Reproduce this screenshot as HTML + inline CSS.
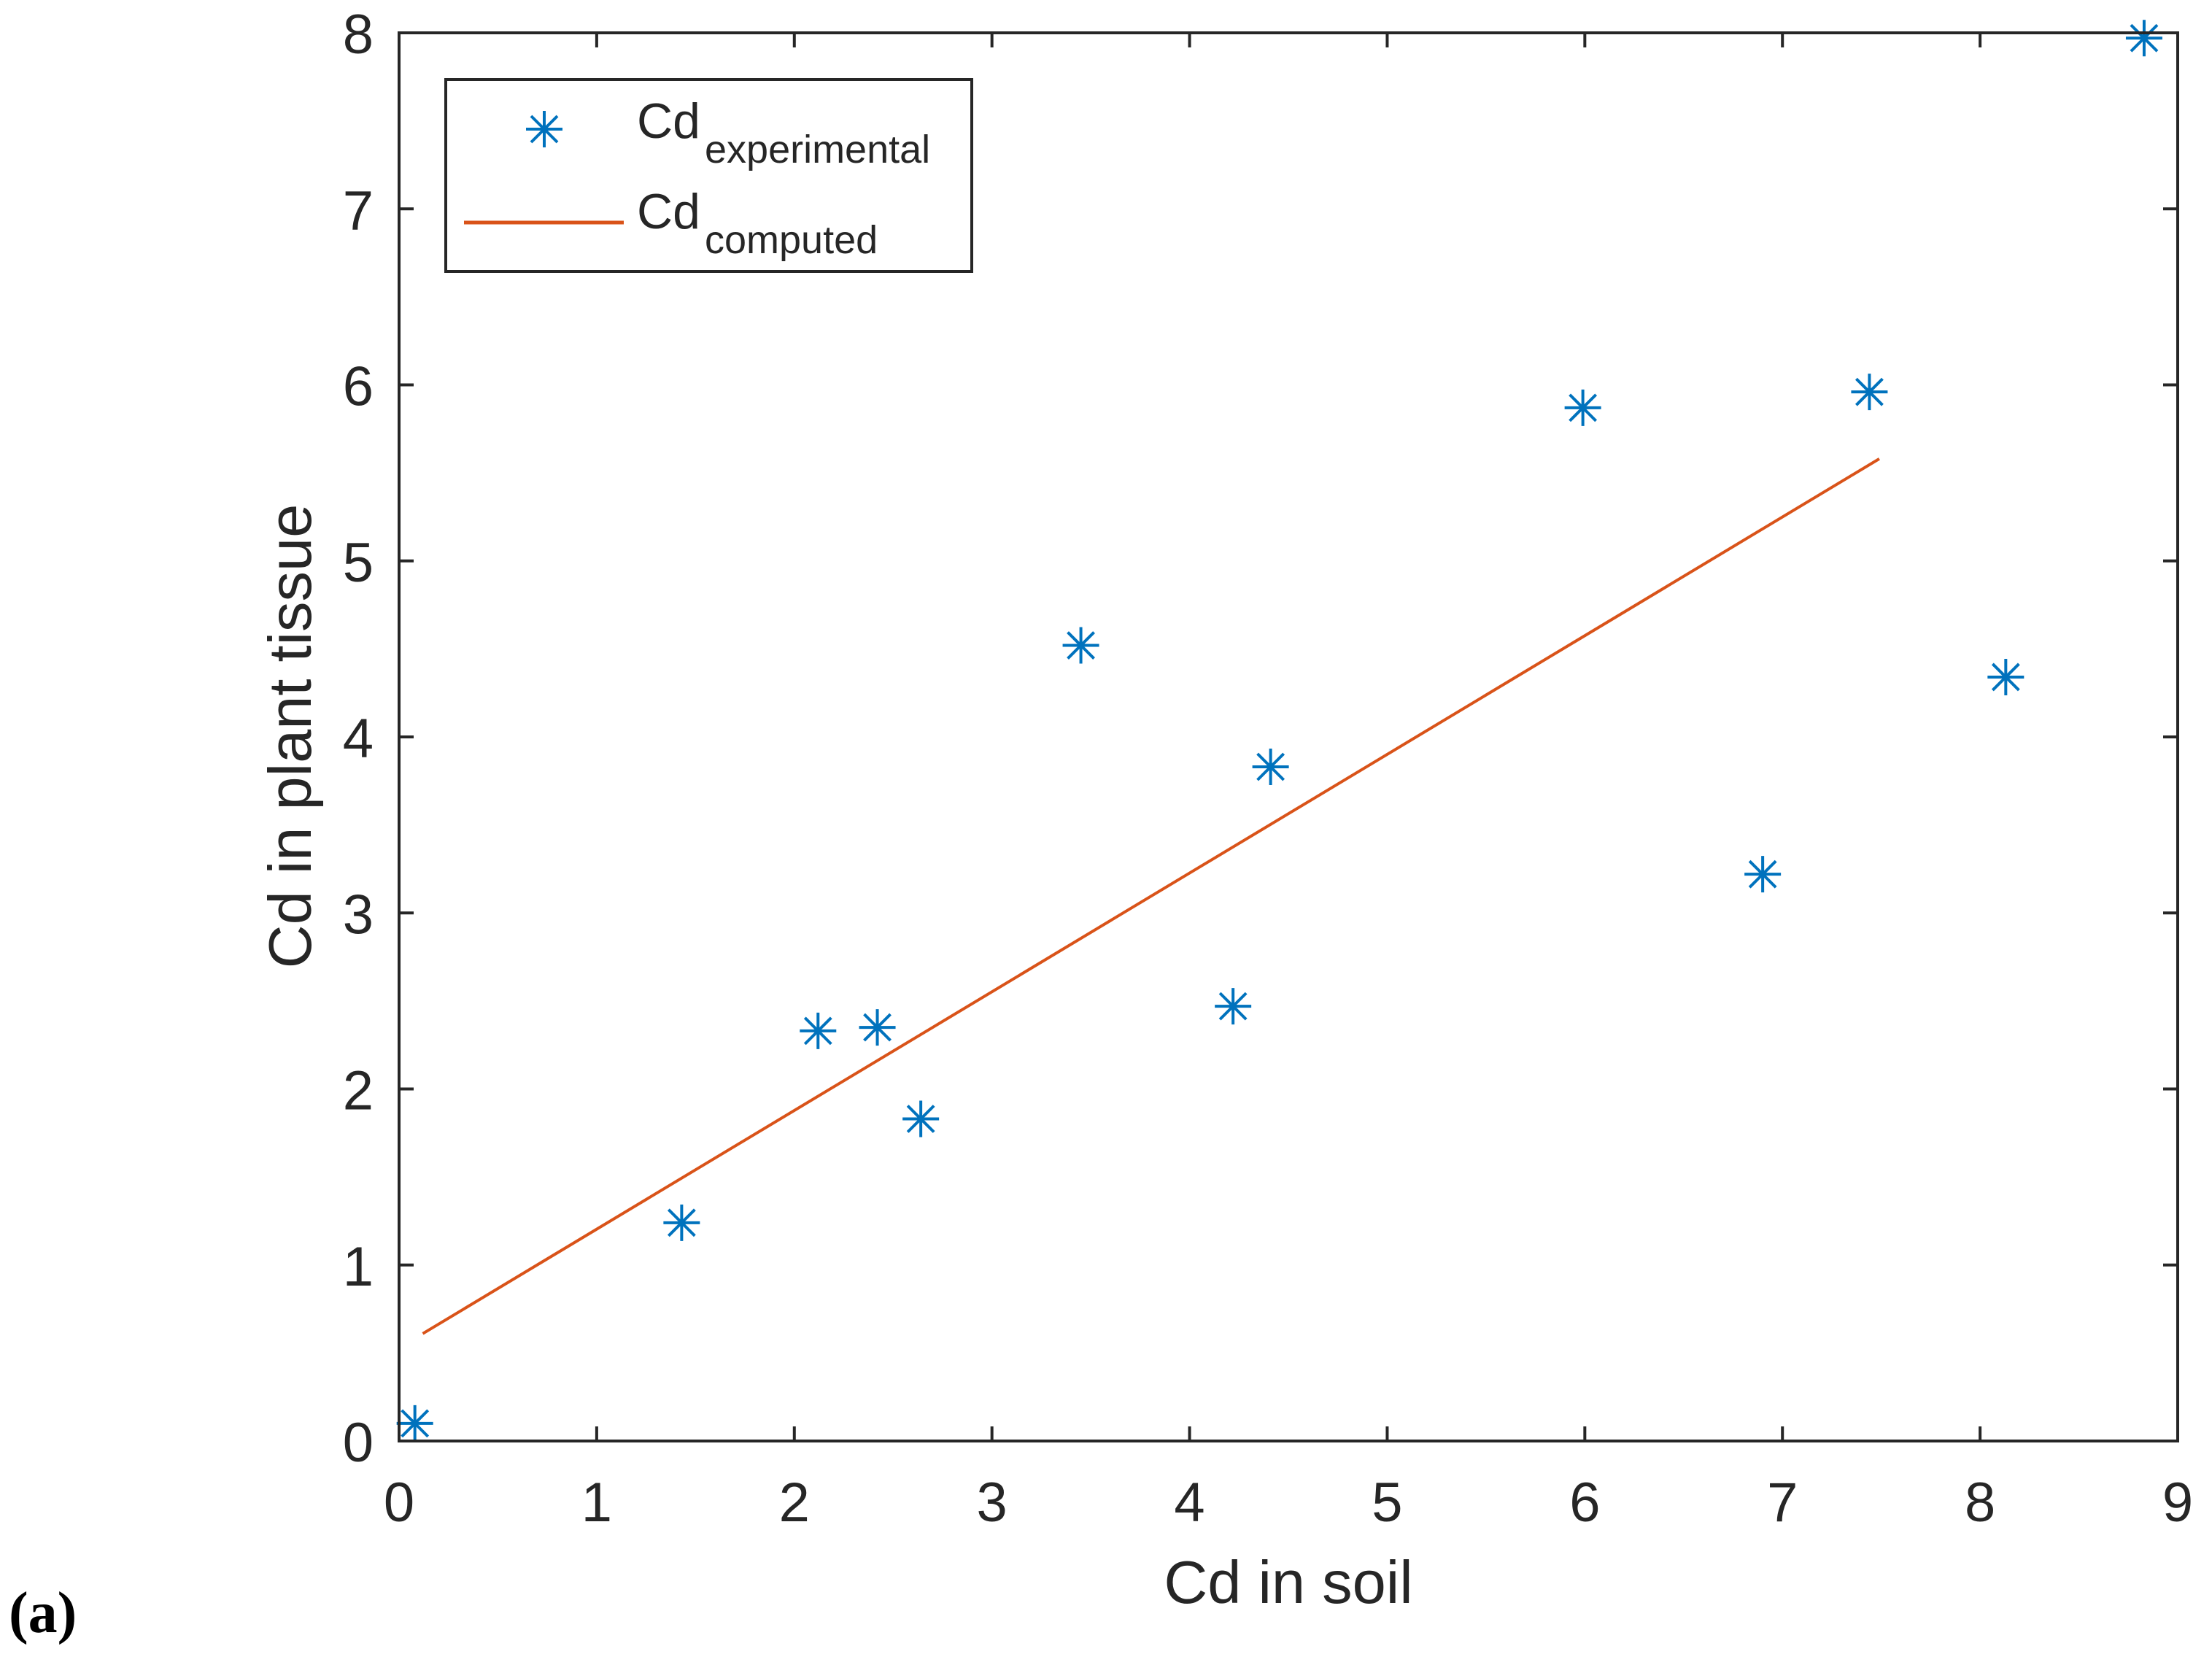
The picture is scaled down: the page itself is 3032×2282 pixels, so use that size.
<!DOCTYPE html>
<html><head><meta charset="utf-8">
<style>
html,body{margin:0;padding:0;background:#fff;}
svg{display:block;}
text{font-family:"Liberation Sans",sans-serif;fill:#262626;}
</style></head>
<body>
<svg id="chart" width="3032" height="2282" viewBox="0 0 3032 2282" xmlns="http://www.w3.org/2000/svg">
  <rect x="0" y="0" width="3032" height="2282" fill="#fff"/>
  <g id="marks"></g>
  <g id="axes"></g>
  <text x="1766" y="2197" font-size="83" text-anchor="middle">Cd in soil</text>
  <text x="426" y="1009" font-size="83" text-anchor="middle" transform="rotate(-90 426 1009)">Cd in plant tissue</text>
  <text x="12" y="2237" font-size="80" font-weight="bold" style="font-family:'Liberation Serif',serif;fill:#000">(a)</text>
  <g>
    <rect x="611" y="109" width="721" height="263" fill="#fff" stroke="#262626" stroke-width="4"/>
    <g stroke="#0072BD" stroke-width="4">
      <line x1="721" y1="177" x2="771" y2="177"/><line x1="746" y1="152" x2="746" y2="202"/>
      <line x1="728" y1="159" x2="764" y2="195"/><line x1="728" y1="195" x2="764" y2="159"/>
    </g>
    <text x="873" y="189" font-size="68">Cd<tspan x="966" y="223" font-size="54">experimental</tspan></text>
    <line x1="636" y1="305" x2="855" y2="305" stroke="#D95319" stroke-width="5"/>
    <text x="873" y="313" font-size="68">Cd<tspan x="966" y="347" font-size="54">computed</tspan></text>
  </g>
</svg>
<script>
const xValues = [0.08, 1.43, 2.12, 2.42, 2.64, 3.45, 4.22, 4.41, 5.99, 6.90, 7.44, 8.13, 8.83];
const yValues = [0.10, 1.24, 2.33, 2.35, 1.83, 4.52, 2.47, 3.83, 5.87, 3.22, 5.96, 4.34, 7.97];
const fitX = [0.12, 7.49];
const fitY = [0.61, 5.58];
const xTicks = [0,1,2,3,4,5,6,7,8,9];
const yTicks = [0,1,2,3,4,5,6,7,8];

const NS = 'http://www.w3.org/2000/svg';
const L = 547, R = 2985, T = 45, B = 1975;
const xMin = 0, xMax = 9, yMin = 0, yMax = 8;
function sx(v){ return L + (v - xMin) / (xMax - xMin) * (R - L); }
function sy(v){ return B - (v - yMin) / (yMax - yMin) * (B - T); }
function mk(tag, attrs, parent){
  const e = document.createElementNS(NS, tag);
  for (const k in attrs) e.setAttribute(k, attrs[k]);
  parent.appendChild(e);
  return e;
}
const marks = document.getElementById('marks');
const axes = document.getElementById('axes');

// fitted line
const fl = mk('line', {x1: sx(fitX[0]), y1: sy(fitY[0]), x2: sx(fitX[1]), y2: sy(fitY[1]), stroke: '#D95319', 'stroke-width': 4}, marks);



// star markers
for (let i = 0; i < xValues.length; i++) {
  const cx = sx(xValues[i]), cy = sy(yValues[i]);
  const g = mk('g', {stroke: '#0072BD', 'stroke-width': 4}, marks);
  
  
  const r = 25, d = 18;
  mk('line', {x1: cx - r, y1: cy, x2: cx + r, y2: cy}, g);
  mk('line', {x1: cx, y1: cy - r, x2: cx, y2: cy + r}, g);
  mk('line', {x1: cx - d, y1: cy - d, x2: cx + d, y2: cy + d}, g);
  mk('line', {x1: cx - d, y1: cy + d, x2: cx + d, y2: cy - d}, g);
}

// axes box
const box = mk('rect', {x: L, y: T, width: R - L, height: B - T, fill: 'none', stroke: '#262626', 'stroke-width': 4}, axes);



const tl = 20;
xTicks.forEach(v => {
  const x = sx(v);
  mk('line', {x1: x, y1: B, x2: x, y2: B - tl, stroke: '#262626', 'stroke-width': 4}, axes);
  mk('line', {x1: x, y1: T, x2: x, y2: T + tl, stroke: '#262626', 'stroke-width': 4}, axes);
  const t = mk('text', {x: x, y: 2085, 'font-size': 76, 'text-anchor': 'middle'}, axes);
  
  
  t.textContent = String(v);
});
yTicks.forEach(v => {
  const y = sy(v);
  mk('line', {x1: L, y1: y, x2: L + tl, y2: y, stroke: '#262626', 'stroke-width': 4}, axes);
  mk('line', {x1: R, y1: y, x2: R - tl, y2: y, stroke: '#262626', 'stroke-width': 4}, axes);
  const t = mk('text', {x: 512, y: y + 28, 'font-size': 76, 'text-anchor': 'end'}, axes);
  
  
  t.textContent = String(v);
});
</script>
</body></html>
